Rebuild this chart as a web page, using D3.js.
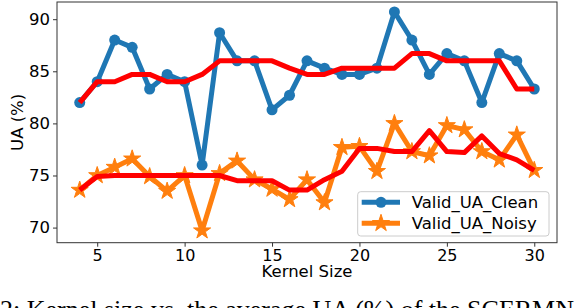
<!DOCTYPE html>
<html>
<head>
<meta charset="utf-8">
<script src="https://cdn.jsdelivr.net/npm/d3@7"></script>
<style>
  html, body { margin: 0; padding: 0; background: #fff; overflow: hidden; }
  svg { display: block; }
</style>
</head>
<body>
<svg id="chart" width="588" height="308"></svg>
<script>
// ---- data ----
const kernelSizes = [4,5,6,7,8,9,10,11,12,13,14,15,16,17,18,19,20,21,22,23,24,25,26,27,28,29,30];
const validUAClean = [82.0,84.0,88.0,87.3,83.3,84.7,84.0,76.0,88.7,86.0,86.0,81.3,82.7,86.0,85.3,84.7,84.7,85.3,90.7,88.0,84.7,86.7,86.0,82.0,86.7,86.0,83.3];
const validUANoisy = [73.6,75.0,75.8,76.6,74.9,73.5,75.0,69.7,75.2,76.4,74.6,73.7,72.7,74.6,72.4,77.7,77.8,75.4,80.0,77.3,76.9,79.8,79.4,77.3,76.5,78.9,75.5];
const smoothClean = [82.0,84.0,84.0,84.7,84.7,84.0,84.0,84.7,86.0,86.0,86.0,86.0,85.3,84.7,84.7,85.3,85.3,85.3,85.3,86.7,86.7,86.0,86.0,86.0,86.0,83.3,83.3];
const smoothNoisy = [73.6,74.9,75.0,75.0,75.0,75.0,75.0,75.0,75.0,74.5,74.5,74.5,73.6,73.6,74.6,75.4,77.6,77.6,77.3,77.3,79.3,77.3,77.2,78.8,77.1,76.5,75.5];
const xTicks = [5,10,15,20,25,30];
const yTicks = [70,75,80,85,90];
const seriesNames = ["Valid_UA_Clean", "Valid_UA_Noisy"];
const xLabel = "Kernel Size";
const yLabel = "UA (%)";
const caption = "2: Kernel size vs. the average UA (%) of the SCERMN";

// ---- layout ----
const svg = d3.select("#chart");
const L = 57, R = 557, T = 2, B = 242.7;
const FONT = "DejaVu Sans, sans-serif";
const x = d3.scaleLinear().domain([2.7, 31.3]).range([L, R]);
const y = d3.scaleLinear().domain([68.55, 91.65]).range([B, T]);

const blue = "#1f77b4", orange = "#ff7f0e", red = "#ff0000";

const line = (vals) => d3.line().x((d, i) => x(kernelSizes[i])).y(d => y(d))(vals);

const plot = svg.append("g");

// clean series
plot.append("path").attr("d", line(validUAClean))
  .attr("fill", "none").attr("stroke", blue).attr("stroke-width", 5).attr("stroke-linejoin", "round");
plot.selectAll("circle.c").data(validUAClean).join("circle")
  .attr("cx", (d, i) => x(kernelSizes[i])).attr("cy", d => y(d)).attr("r", 5.5).attr("fill", blue);

// noisy series
const star = d3.symbol().type(d3.symbolStar).size(81 / 0.8908);
plot.append("path").attr("d", line(validUANoisy))
  .attr("fill", "none").attr("stroke", orange).attr("stroke-width", 5).attr("stroke-linejoin", "round");
plot.selectAll("path.s").data(validUANoisy).join("path")
  .attr("transform", (d, i) => `translate(${x(kernelSizes[i])},${y(d)})`)
  .attr("d", star()).attr("fill", orange).attr("stroke", orange).attr("stroke-width", 1);

// smoothed red lines
[smoothClean, smoothNoisy].forEach(vals => {
  plot.append("path").attr("d", line(vals))
    .attr("fill", "none").attr("stroke", red).attr("stroke-width", 5)
    .attr("stroke-linejoin", "round").attr("stroke-linecap", "butt");
});

// frame
svg.append("rect").attr("x", L).attr("y", T).attr("width", R - L).attr("height", B - T)
  .attr("fill", "none").attr("stroke", "#333").attr("stroke-width", 1);

// axes
const xAxis = d3.axisBottom(x).tickValues(xTicks).tickSize(4).tickPadding(3).tickFormat(d3.format("d"));
const yAxis = d3.axisLeft(y).tickValues(yTicks).tickSize(4).tickPadding(3).tickFormat(d3.format("d"));
const gx = svg.append("g").attr("transform", `translate(0,${B})`).call(xAxis);
const gy = svg.append("g").attr("transform", `translate(${L},0)`).call(yAxis);
[gx, gy].forEach(g => {
  g.select(".domain").remove();
  g.selectAll(".tick line").attr("stroke", "#333");
  g.selectAll(".tick text").attr("fill", "#000").style("font-family", FONT).style("font-size", "16.5px");
});
gx.selectAll(".tick text").style("font-size", "16px");

// axis labels
svg.append("text").attr("x", (L + R) / 2).attr("y", 276.5).attr("text-anchor", "middle")
  .style("font-family", FONT).style("font-size", "16.5px").text(xLabel);
svg.append("text").attr("transform", `translate(23,${(T + B) / 2}) rotate(-90)`).attr("text-anchor", "middle")
  .style("font-family", FONT).style("font-size", "16.5px").text(yLabel);

// legend
const lg = svg.append("g");
lg.append("rect").attr("x", 357.7).attr("y", 191.7).attr("width", 191.3).attr("height", 44.3).attr("rx", 3)
  .attr("fill", "#fff").attr("fill-opacity", 0.8).attr("stroke", "#ccc").attr("stroke-width", 1);
const legY = [202.3, 223.3];
const legColors = [blue, orange];
seriesNames.forEach((name, i) => {
  lg.append("line").attr("x1", 361.7).attr("x2", 400).attr("y1", legY[i]).attr("y2", legY[i])
    .attr("stroke", legColors[i]).attr("stroke-width", 5);
  if (i === 0) {
    lg.append("circle").attr("cx", 381).attr("cy", legY[i]).attr("r", 5.5).attr("fill", blue);
  } else {
    lg.append("path").attr("transform", `translate(381,${legY[i]})`).attr("d", star())
      .attr("fill", orange).attr("stroke", orange).attr("stroke-width", 1);
  }
  lg.append("text").attr("x", 411.7).attr("y", legY[i] + 6).style("font-family", FONT)
    .style("font-size", "16.5px").text(name);
});

// caption of the page, cropped by the bottom edge in the reference
svg.append("text").attr("x", 0).attr("y", 318).style("font-family", "Liberation Serif, serif")
  .style("font-size", "26px").text(caption);
</script>
</body>
</html>
